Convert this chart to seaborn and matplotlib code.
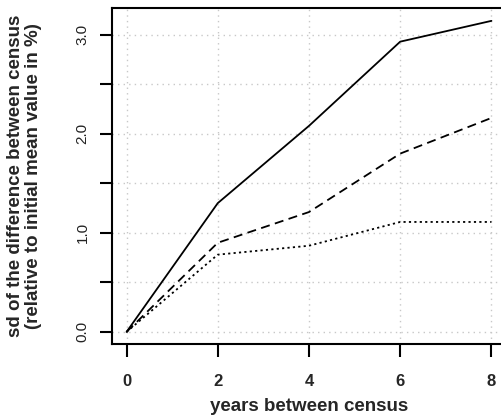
import numpy as np
import pandas as pd
import matplotlib
matplotlib.use('Agg')
import matplotlib.pyplot as plt
import seaborn as sns

# years between census and sd values (three series)
years = [0, 2, 4, 6, 8]
sd_solid = [0.0, 1.30, 2.08, 2.93, 3.14]
sd_dashed = [0.0, 0.90, 1.21, 1.80, 2.16]
sd_dotted = [0.0, 0.78, 0.87, 1.11, 1.11]

sns.set_theme(style="white")
plt.rcParams['font.family'] = ['Liberation Sans', 'DejaVu Sans']

fig = plt.figure(figsize=(5.02, 4.2), dpi=100)
ax = fig.add_axes([0.223, 0.18, 0.785, 0.801])

styles = [(sd_solid, '-'), (sd_dashed, (0, (5, 3))), (sd_dotted, (0, (1.2, 1.8)))]
for vals, ls in styles:
    sns.lineplot(x=years, y=vals, ax=ax, color='black', linewidth=1.3, linestyle=ls)

ax.set_xlim(-0.32, 8.32)
ax.set_ylim(-0.126, 3.27)
ax.set_xticks(years)
ax.set_yticks(np.arange(0, 3.01, 0.5))
ax.set_yticklabels(['0.0', '', '1.0', '', '2.0', '', '3.0'], rotation=90, va='center', fontsize=11,
                   color='#222222')
ax.set_xticklabels([str(y) for y in years], fontsize=12, fontweight='bold')

ax.grid(True, color='#c8c8c8', linestyle=(0, (1, 3)), linewidth=1)
ax.tick_params(direction='out', length=9, width=1.5, color='black', left=True, bottom=True)
ax.tick_params(axis='x', pad=12)
ax.tick_params(axis='y', pad=7)
for s in ax.spines.values():
    s.set_color('black')
    s.set_linewidth(1.5)

ax.set_xlabel('years between census', fontsize=13.5, fontweight='bold', labelpad=7)
ax.set_ylabel('sd of the difference between census\n(relative to initial mean value in %)',
              fontsize=13.5, fontweight='bold', labelpad=24, linespacing=1.1)

fig.savefig('out.png', dpi=100)
